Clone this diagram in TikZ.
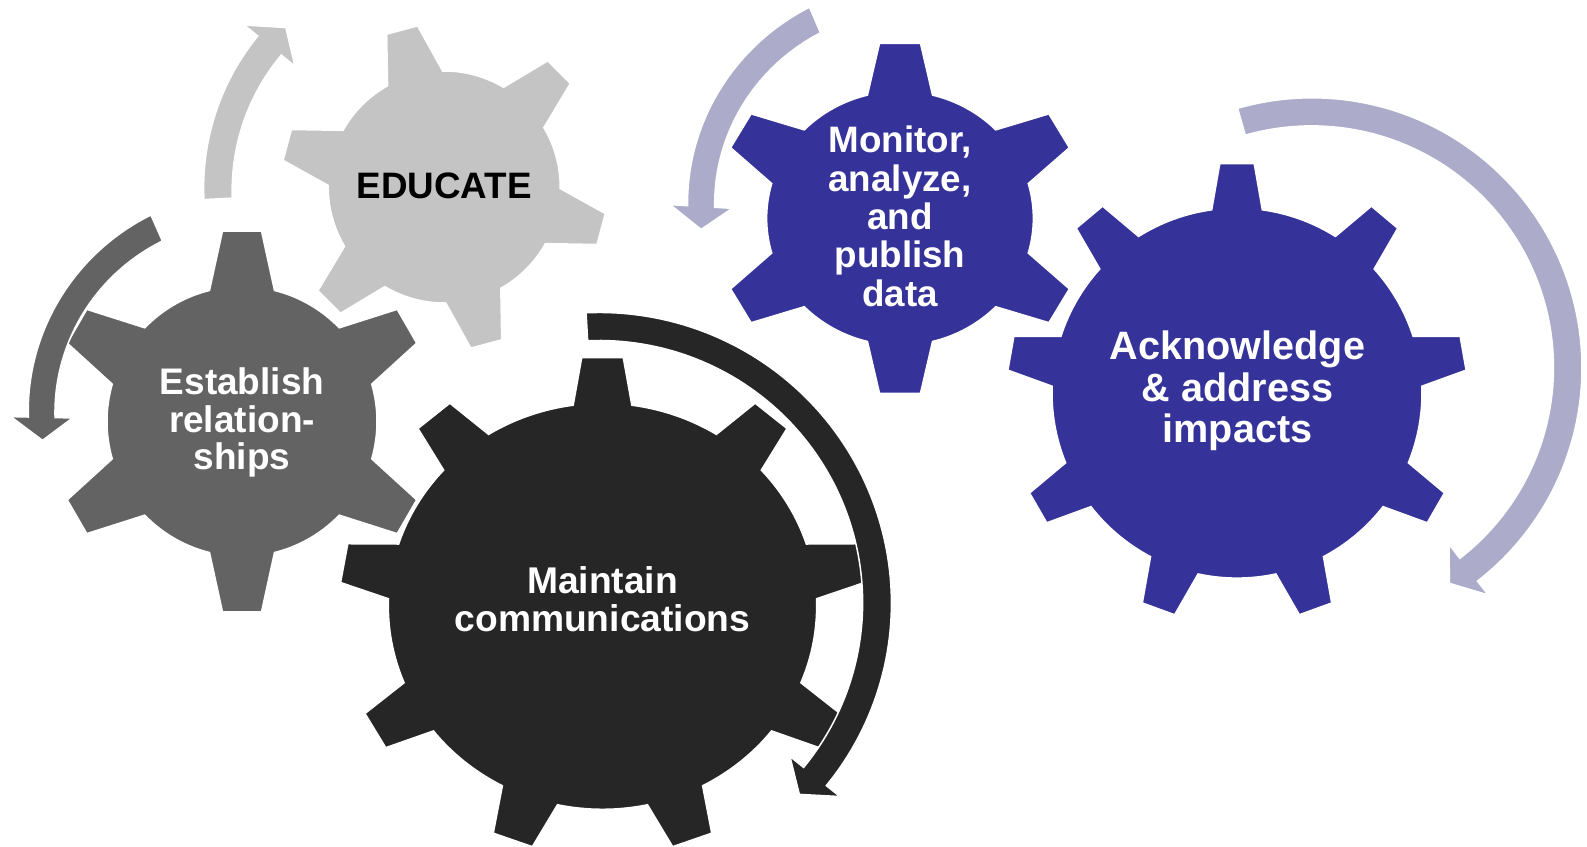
\documentclass[tikz,border=0pt]{standalone}
\usepackage{fontspec}
\setmainfont{Liberation Sans}

\definecolor{educgrey}{HTML}{C4C4C4}
\definecolor{relgrey}{HTML}{636363}
\definecolor{commblack}{HTML}{262626}
\definecolor{datanavy}{HTML}{353399}
\definecolor{cyclelav}{HTML}{ACACCA}

\tikzset{
  % gear: teeth / phase / body radius / tip radius / tip half-width / base half-width
  pics/gear/.style args={#1/#2/#3/#4/#5/#6}{code={%
    \pgfmathsetmacro\gstep{360/#1}%
    \pgfmathsetmacro\gtip{atan(#5/#4)}%
    \pgfmathsetmacro\gtipr{#4/cos(\gtip)}%
    \pgfmathsetmacro\gbase{asin(#6/#3)}%
    \pgfmathtruncatemacro\glast{#1-1}%
    \path[pic actions] ({#2-\gbase}:#3)
      \foreach \k in {0,...,\glast}{
        -- ({#2+\k*\gstep-\gtip}:\gtipr)
        -- ({#2+\k*\gstep+\gtip}:\gtipr)
        -- ({#2+\k*\gstep+\gbase}:#3)
        arc[start angle={#2+\k*\gstep+\gbase}, end angle={#2+(\k+1)*\gstep-\gbase}, radius=#3]
      } -- cycle;
  }},
  % curved arrow: tail angle / head angle / tip angle /
  % inner & outer radius at tail / inner & outer radius at head
  pics/turnarrow/.style args={#1/#2/#3/#4/#5/#6/#7}{code={%
    \path[pic actions]
      plot[domain=#1:#2, samples=90] (\x:{#5+(#7-#5)*(\x-(#1))/((#2)-(#1))})
      -- (#2:{#7+17.5}) -- (#3:{(#6+#7)/2}) -- (#2:{#6-17.5})
      -- plot[domain=#2:#1, samples=90] (\x:{#4+(#6-#4)*(\x-(#1))/((#2)-(#1))})
      -- cycle;
  }},
  cutline/.style={draw=white, line width=0.75pt, line join=miter},
  geartext/.style={text=white, align=center, inner sep=0pt},
}

\begin{document}
\begin{tikzpicture}[x=0.5pt,y=0.5pt]
\useasboundingbox (0,0) rectangle (1587,847);

% gear centres
\coordinate (cEdu) at (444.2,660);
\coordinate (cRel) at (242,425.5);
\coordinate (cCom) at (602.5,240.7);
\coordinate (cMon) at (900,628.7);
\coordinate (cAck) at (1237,453.9);
\coordinate (cAckTurn) at (1312,479.2);

% EDUCATE
\pic[cutline, fill=educgrey] at (cEdu) {gear=6/105/116/162.5/16/28.5};
\pic[cutline, fill=educgrey] at (cEdu) {turnarrow=183/141/134.8/212.2/240.6/209.6/239.9};

% Establish relationships
\pic[cutline, fill=relgrey] at (cRel) {gear=6/90/135/190.5/19.5/32.5};
\pic[cutline, fill=relgrey] at (cRel) {turnarrow=113.8/178.8/185.4/197.3/225.7/187/213.7};

% Maintain communications
\pic[cutline, fill=commblack, xscale=1.055] at (cCom) {gear=9/90/203/248.6/19.7/27.8};
\pic[cutline, fill=commblack] at (cCom) {turnarrow=93.2/-38.7/-43.7/266/294/257.7/286.8};

% Monitor, analyze, and publish data
\pic[cutline, fill=datanavy, xscale=1.05] at (cMon) {gear=6/90/127/175/19.5/31};
\pic[cutline, fill=cyclelav] at (cMon) {turnarrow=113.2/176.6/183.2/201.8/229.7/185.6/212.8};

% Acknowledge & address impacts
\pic[cutline, fill=datanavy] at (cAck) {gear=9/90/185/229.6/17.2/25.3};
\pic[cutline, fill=cyclelav] at (cAckTurn) {turnarrow=106/-52.2/-57.5/242/270/241.2/270};

% labels
\node[geartext, text=black, font=\bfseries\fontsize{18.4}{19}\selectfont] (educate) at (444.2,661) {EDUCATE};
\node[geartext, font=\bfseries\fontsize{18.5}{18.9}\selectfont] (establish) at (242,424.5) {Establish\\relation-\\ships};
\node[geartext, font=\bfseries\fontsize{18.6}{19.2}\selectfont] (maintain) at (602.5,247.8) {Maintain\\communications};
\node[geartext, font=\bfseries\fontsize{18.4}{19.15}\selectfont] (monitor) at (900,630.7) {Monitor,\\analyze,\\and\\publish\\data};
\node[geartext, font=\bfseries\fontsize{19.8}{20.85}\selectfont] (acknowledge) at (1237.5,456.1) {Acknowledge\\\& address\\impacts};
\end{tikzpicture}
\end{document}
